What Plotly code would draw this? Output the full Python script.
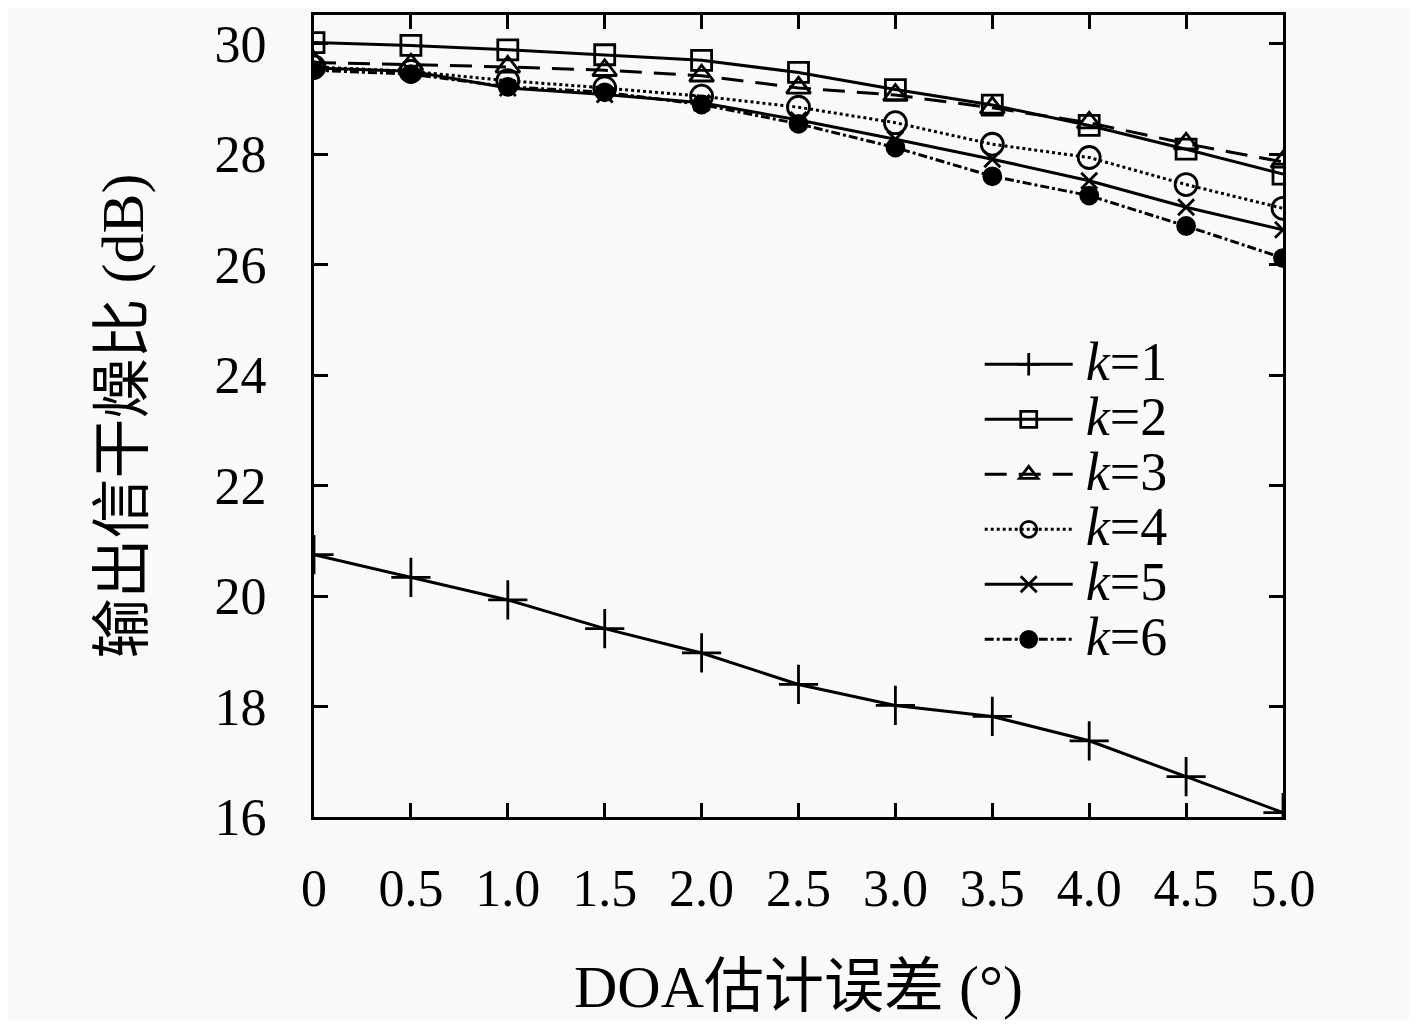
import plotly.graph_objects as go

# DOA error (deg) and output SINR (dB)
doa_err = [0, 0.5, 1.0, 1.5, 2.0, 2.5, 3.0, 3.5, 4.0, 4.5, 5.0]
x_ticks = ["0", "0.5", "1.0", "1.5", "2.0", "2.5", "3.0", "3.5", "4.0", "4.5", "5.0"]
y_ticks = [16, 18, 20, 22, 24, 26, 28, 30]

k1 = [20.75, 20.34, 19.93, 19.41, 18.97, 18.40, 18.02, 17.82, 17.38, 16.73, 16.08]
k2 = [30.02, 29.97, 29.89, 29.80, 29.70, 29.48, 29.17, 28.89, 28.52, 28.09, 27.64]
k3 = [29.66, 29.62, 29.58, 29.52, 29.42, 29.20, 29.07, 28.84, 28.57, 28.19, 27.86]
k4 = [29.58, 29.50, 29.33, 29.20, 29.05, 28.85, 28.57, 28.18, 27.94, 27.45, 27.02]
k5 = [29.56, 29.50, 29.20, 29.08, 28.93, 28.62, 28.27, 27.91, 27.52, 27.04, 26.63]
k6 = [29.52, 29.45, 29.22, 29.12, 28.90, 28.55, 28.12, 27.60, 27.25, 26.70, 26.12]

series = [
    ("1", k1, "solid", "cross-thin", 28),
    ("2", k2, "solid", "square-open", 20),
    ("3", k3, "22px,12px", "triangle-up-open", 21),
    ("4", k4, "dot", "circle-open", 22),
    ("5", k5, "solid", "x-thin", 16),
    ("6", k6, "dashdot", "circle", 17),
]

fig = go.Figure()
for k, vals, dash, sym, size in series:
    # bigger text inside a smaller legend font keeps the rows tight like the original
    label = '\u2009<span style="font-size:54px"><i>k</i>=' + k + "</span>"
    fig.add_trace(go.Scatter(
        x=doa_err, y=vals, name=label, mode="lines+markers",
        line=dict(color="black", width=3, dash=dash),
        marker=dict(symbol=sym, size=size, color="black",
                    line=dict(color="black", width=2.8)),
    ))

serif = "Liberation Serif"
axis_common = dict(
    showline=True, linecolor="black", linewidth=3, mirror="allticks",
    ticks="inside", ticklen=14, tickwidth=2.5, tickcolor="black",
    showgrid=False, zeroline=False,
    tickfont=dict(family=serif, size=52, color="black"),
)

fig.update_xaxes(
    range=[0, 5], tickvals=doa_err, ticktext=x_ticks, ticklabelstandoff=24,
    title=dict(text="DOA估计误差 (°)", standoff=52,
               font=dict(family=serif + ", Noto Sans CJK SC", size=60, color="black")),
    **axis_common)
fig.update_yaxes(
    range=[16, 30.52], tickvals=y_ticks, ticklabelstandoff=34,
    title=dict(text="输出信干燥比 (dB)", standoff=52,
               font=dict(family=serif + ", Noto Sans CJK SC", size=60, color="black")),
    **axis_common)

# page body has an 8px margin, so the figure is a bit smaller than the window
fig.update_layout(
    width=1401, height=1012,
    margin=dict(l=306, r=126, t=4, b=203),
    paper_bgcolor="#f9f9f9", plot_bgcolor="#f9f9f9",
    legend=dict(x=0.687, y=0.605, xanchor="left", yanchor="top",
                bgcolor="rgba(0,0,0,0)", itemwidth=88,
                font=dict(family=serif, size=40, color="black")),
)

fig.write_html("out.html")
